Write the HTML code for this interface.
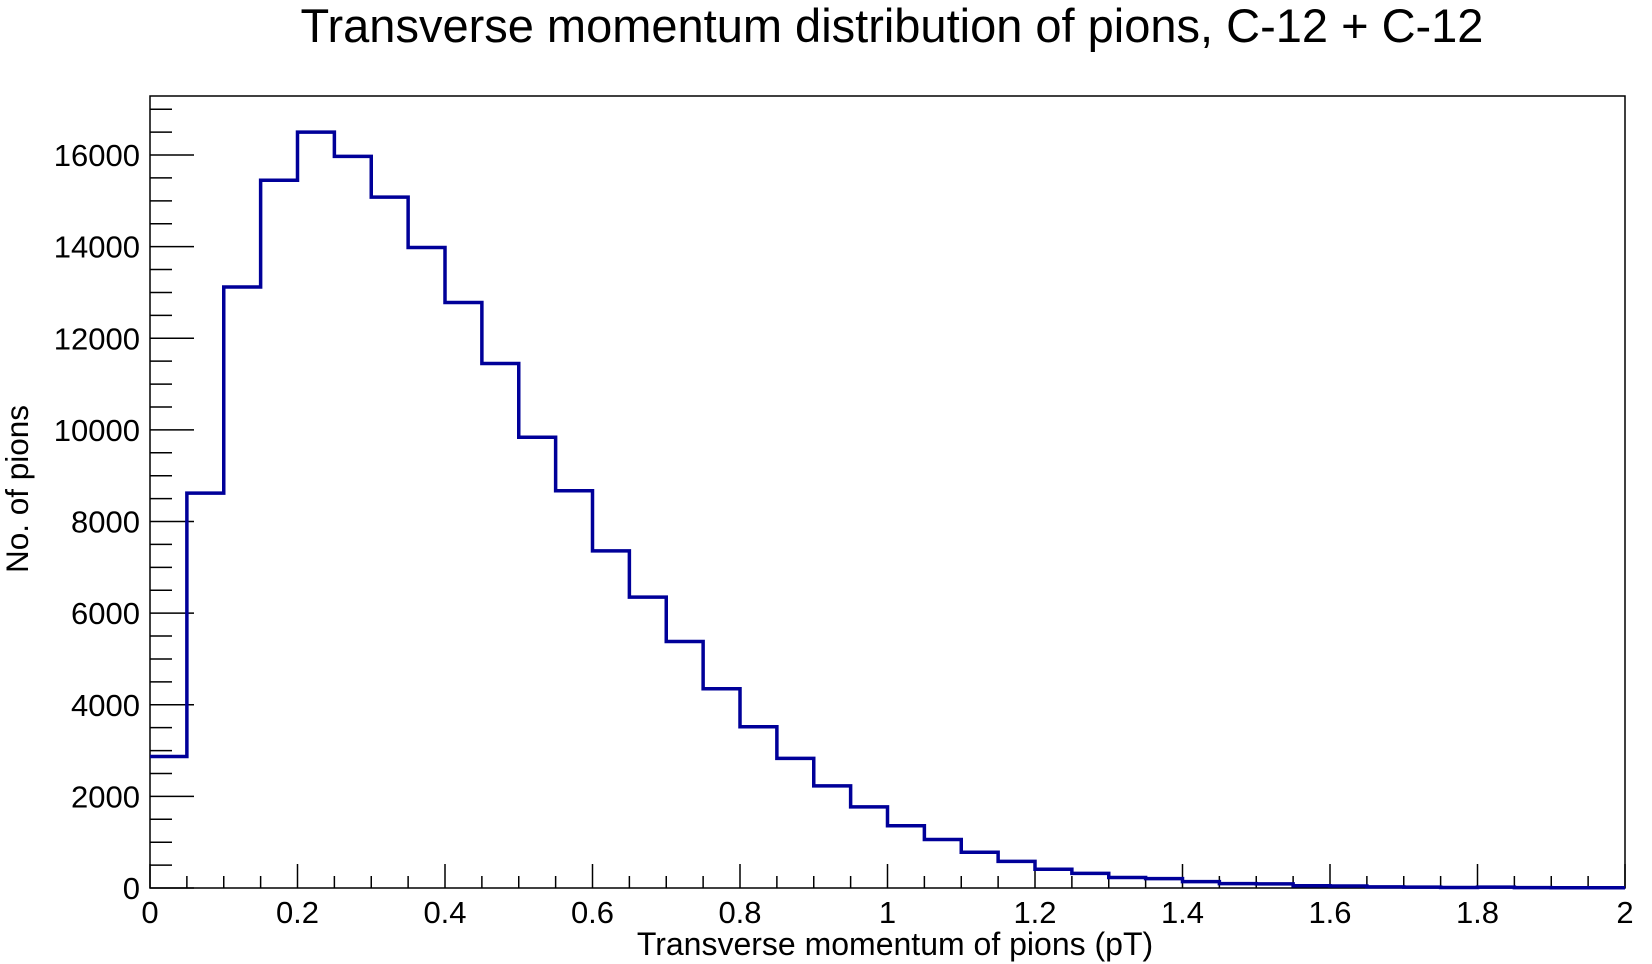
<!DOCTYPE html>
<html><head><meta charset="utf-8"><style>
html,body{margin:0;padding:0;background:#fff;}
svg{display:block;font-family:"Liberation Sans",Arial,sans-serif;}
</style></head><body>
<svg id="chart" width="1652" height="964" viewBox="0 0 1652 964">
<rect x="0" y="0" width="1652" height="964" fill="#fff"/>
<text x="892" y="42" font-size="47" text-anchor="middle" fill="#000">Transverse momentum distribution of pions, C-12 + C-12</text>
<text x="895" y="955" font-size="32" text-anchor="middle" fill="#000">Transverse momentum of pions (pT)</text>
<text transform="translate(28,489) rotate(-90)" font-size="31.5" text-anchor="middle" fill="#000">No. of pions</text>
<g id="ticks"></g>
<rect x="150" y="96" width="1475" height="792" fill="none" stroke="#000" stroke-width="1.5"/>
<path id="hist" fill="none" stroke="#000099" stroke-width="3.5"/>
</svg>
<script>
const binEdgesStart = 0;
const binWidth = 0.05;
const counts = [2870,8620,13120,15450,16500,15970,15080,13980,12780,11450,9840,8670,7360,6350,5380,4350,3520,2830,2230,1770,1360,1060,780,580,410,320,230,205,140,95,90,50,45,25,20,10,20,8,5,5];
const xTickLabels = ["0","0.2","0.4","0.6","0.8","1","1.2","1.4","1.6","1.8","2"];
const xTickValues = [0,0.2,0.4,0.6,0.8,1,1.2,1.4,1.6,1.8,2];
const yTickValues = [0,2000,4000,6000,8000,10000,12000,14000,16000];
const yTickLabels = ["0","2000","4000","6000","8000","10000","12000","14000","16000"];
const L=150,R=1625,T=96,B=888, xMin=0,xMax=2, yMin=0,yMax=(888-96)/((888-155)/16000);
const sx=v=>L+(v-xMin)/(xMax-xMin)*(R-L);
const sy=v=>B-(v-yMin)/(yMax-yMin)*(B-T);
const NS="http://www.w3.org/2000/svg";
const g=document.getElementById('ticks');
function line(x1,y1,x2,y2,name){const l=document.createElementNS(NS,'line');
l.setAttribute('x1',x1);l.setAttribute('y1',y1);l.setAttribute('x2',x2);l.setAttribute('y2',y2);
l.setAttribute('stroke','#000');l.setAttribute('stroke-width','1.5');


g.appendChild(l);}
function text(x,y,s,anchor,name){const t=document.createElementNS(NS,'text');
t.setAttribute('x',x);t.setAttribute('y',y);t.setAttribute('font-size','31');t.setAttribute('text-anchor',anchor);t.textContent=s;


g.appendChild(t);}
for(let v=0; v<=2.0001; v+=0.05){const x=sx(v);const major=Math.abs(v/0.2-Math.round(v/0.2))<1e-6;line(x,B,x,B-(major?24:12),major?'x-major-tick':'x-minor-tick');}
xTickValues.forEach((v,i)=>text(sx(v),923,xTickLabels[i],'middle','x-tick-label'));
for(let v=0; v<=yMax; v+=500){const y=sy(v);const major=v%2000===0;line(L,y,L+(major?44:22),y,major?'y-major-tick':'y-minor-tick');}
yTickValues.forEach((v,i)=>text(140,sy(v)+11,yTickLabels[i],'end','y-tick-label'));
let d='M'+sx(binEdgesStart)+','+sy(counts[0]);
counts.forEach((c,i)=>{const x0=sx(binEdgesStart+i*binWidth),x1=sx(binEdgesStart+(i+1)*binWidth);
d+=' L'+x0+','+sy(c)+' L'+x1+','+sy(c);});
document.getElementById('hist').setAttribute('d',d);
</script>
</body></html>
